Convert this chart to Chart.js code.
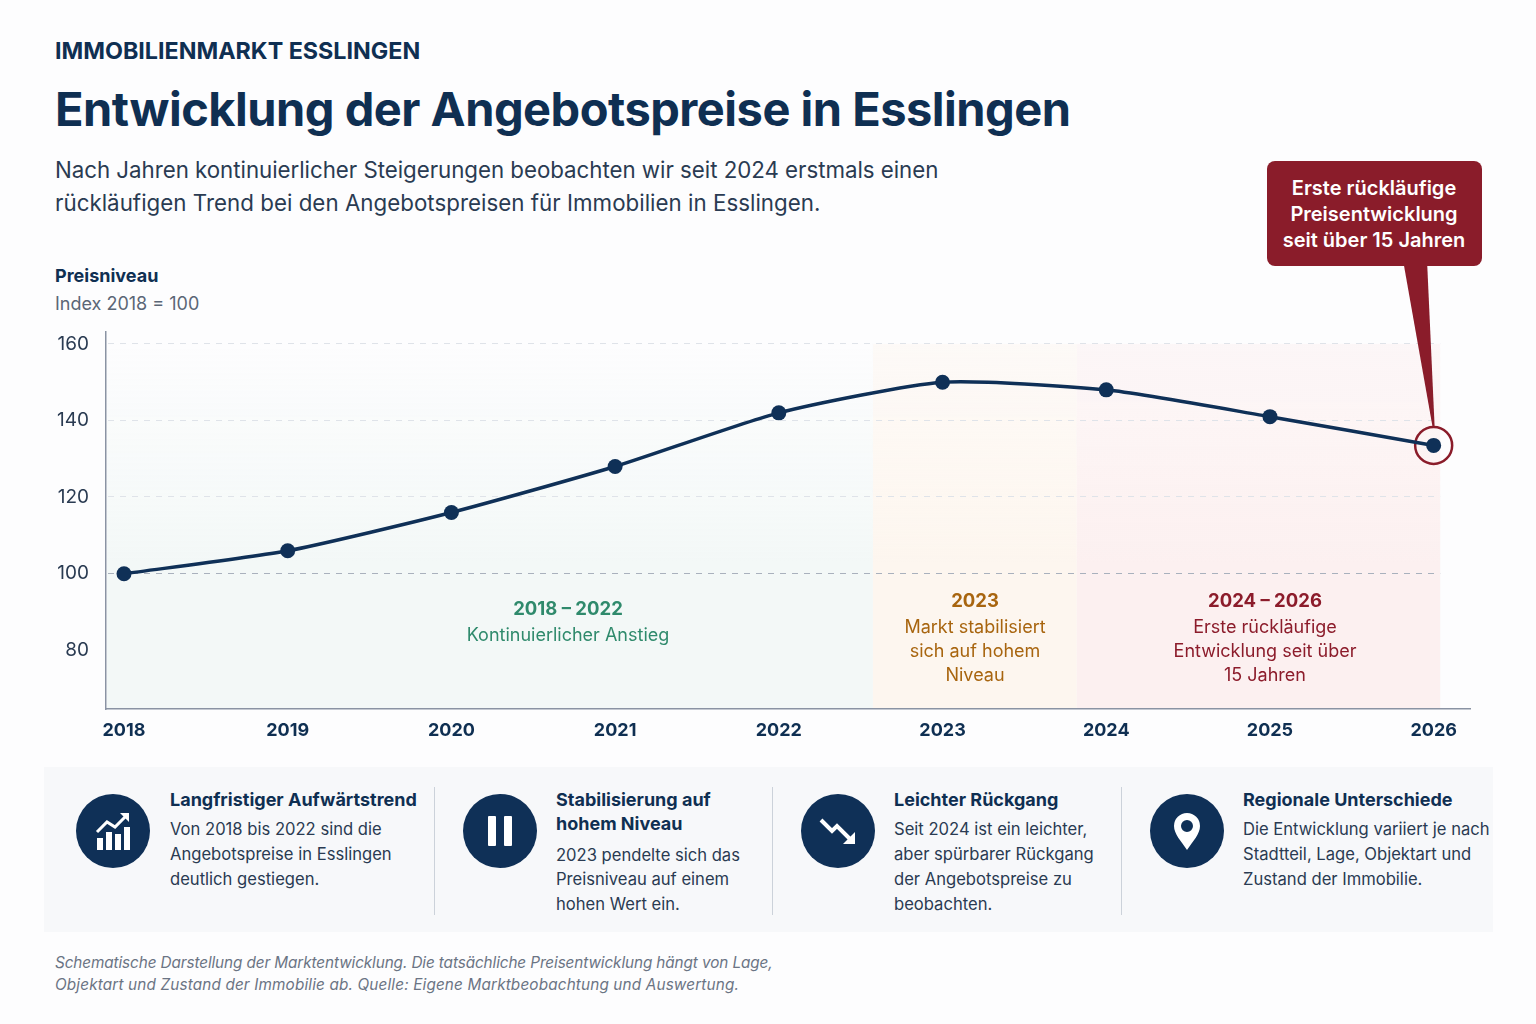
<!DOCTYPE html>
<html lang="de">
<head>
<meta charset="utf-8">
<title>Entwicklung der Angebotspreise in Esslingen</title>
<script src="https://cdn.jsdelivr.net/npm/chart.js@4/dist/chart.umd.min.js"></script>
<style>
html, body { margin: 0; padding: 0; background: #fdfdfe; }
body { position: relative; width: 1536px; height: 1024px; overflow: hidden; font-family: Inter, "Noto Sans", sans-serif; color: #0f2f52; }
.t { position: absolute; white-space: nowrap; line-height: 24px; height: 24px; }
.c { transform: translateX(-50%); text-align: center; }
.b { font-weight: 700; color: #0f2f52; }
.card { font-size: 16.6px; color: #2a3b52; }
.cardhead { font-size: 18px; font-weight: 700; color: #0f2f52; }
.foot { font-size: 15.3px; font-style: italic; color: #6b7484; }
#panel { position: absolute; left: 44px; top: 767px; width: 1449px; height: 165px; background: #f7f8fa; }
.div { position: absolute; top: 787px; width: 1px; height: 128px; background: #ccd2da; }
.icon { position: absolute; top: 794px; width: 74px; height: 74px; }
#callout { position: absolute; left: 1267px; top: 161px; width: 215px; height: 105px; border-radius: 8px; background: #8a1c2a; }
.w { color: #fff; font-size: 20px; font-weight: 600; }
#chart { position: absolute; left: 0; top: 260px; }
</style>
</head>
<body>

<div class="t b" style="left:55px;top:39px;font-size:23.3px;">IMMOBILIENMARKT ESSLINGEN</div>
<div class="t b" style="left:55px;top:97px;font-size:47px;letter-spacing:-0.5px;">Entwicklung der Angebotspreise in Esslingen</div>
<div class="t" style="left:55px;top:158px;font-size:22.3px;letter-spacing:-0.03px;color:#2a3b52;">Nach Jahren kontinuierlicher Steigerungen beobachten wir seit 2024 erstmals einen</div>
<div class="t" style="left:55px;top:191px;font-size:22.3px;letter-spacing:0.03px;color:#2a3b52;">rückläufigen Trend bei den Angebotspreisen für Immobilien in Esslingen.</div>
<div class="t b" style="left:55px;top:264px;font-size:18px;">Preisniveau</div>
<div class="t" style="left:55px;top:292px;font-size:18px;color:#5b6676;">Index 2018 = 100</div>

<canvas id="chart" width="1536" height="500"></canvas>

<div class="t c" style="left:568px;top:596px;font-size:18.5px;font-weight:700;color:#2f8a6c;">2018 – 2022</div>
<div class="t c" style="left:568px;top:623px;font-size:18px;color:#2f8a6c;">Kontinuierlicher Anstieg</div>
<div class="t c" style="left:975px;top:588px;font-size:18.5px;font-weight:700;color:#a8650f;">2023</div>
<div class="t c" style="left:975px;top:615px;font-size:18px;color:#a8650f;">Markt stabilisiert</div>
<div class="t c" style="left:975px;top:639px;font-size:18px;color:#a8650f;">sich auf hohem</div>
<div class="t c" style="left:975px;top:663px;font-size:18px;color:#a8650f;">Niveau</div>
<div class="t c" style="left:1265px;top:588px;font-size:18.5px;font-weight:700;color:#8c1c2b;">2024 – 2026</div>
<div class="t c" style="left:1265px;top:615px;font-size:18px;color:#8c1c2b;">Erste rückläufige</div>
<div class="t c" style="left:1265px;top:639px;font-size:18px;color:#8c1c2b;">Entwicklung seit über</div>
<div class="t c" style="left:1265px;top:663px;font-size:18px;color:#8c1c2b;">15 Jahren</div>

<div id="callout"></div>
<div class="t c w" style="left:1374px;top:176px;">Erste rückläufige</div>
<div class="t c w" style="left:1374px;top:202px;">Preisentwicklung</div>
<div class="t c w" style="left:1374px;top:228px;">seit über 15 Jahren</div>

<div id="panel"></div>
<div class="div" style="left:434px;"></div>
<div class="div" style="left:772px;"></div>
<div class="div" style="left:1121px;"></div>

<svg class="icon" style="left:76px;" viewBox="0 0 74 74">
  <circle cx="37" cy="37" r="37" fill="#0f3057"/>
  <g fill="#fff"><rect x="21" y="44" width="6" height="12"/><rect x="30" y="38" width="6" height="18"/><rect x="39" y="40" width="6" height="16"/><rect x="48" y="33" width="6" height="23"/></g>
  <path d="M21 38 L31 28 L39 33 L50 22" fill="none" stroke="#fff" stroke-width="3"/>
  <path d="M44 19 H53 V28 Z" fill="#fff"/>
</svg>
<svg class="icon" style="left:463px;" viewBox="0 0 74 74">
  <circle cx="37" cy="37" r="37" fill="#0f3057"/>
  <rect x="25" y="22" width="8" height="30" rx="1" fill="#fff"/><rect x="41" y="22" width="8" height="30" rx="1" fill="#fff"/>
</svg>
<svg class="icon" style="left:801px;" viewBox="0 0 74 74">
  <circle cx="37" cy="37" r="37" fill="#0f3057"/>
  <path d="M20 26 L31 37 L36 32 L49 45" fill="none" stroke="#fff" stroke-width="4"/>
  <path d="M54 50 H42 L54 38 Z" fill="#fff"/>
</svg>
<svg class="icon" style="left:1150px;" viewBox="0 0 74 74">
  <circle cx="37" cy="37" r="37" fill="#0f3057"/>
  <path fill-rule="evenodd" fill="#fff" d="M37 56 C31 47 24 40 24 32 A13 13 0 0 1 50 32 C50 40 43 47 37 56 Z M37 26 A6 6 0 1 0 37 38 A6 6 0 1 0 37 26 Z"/>
</svg>

<div class="t cardhead" style="left:170px;top:788px;">Langfristiger Aufwärtstrend</div>
<div class="t card" style="left:170px;top:817px;">Von 2018 bis 2022 sind die</div>
<div class="t card" style="left:170px;top:842px;">Angebotspreise in Esslingen</div>
<div class="t card" style="left:170px;top:867px;">deutlich gestiegen.</div>

<div class="t cardhead" style="left:556px;top:788px;">Stabilisierung auf</div>
<div class="t cardhead" style="left:556px;top:812px;">hohem Niveau</div>
<div class="t card" style="left:556px;top:843px;">2023 pendelte sich das</div>
<div class="t card" style="left:556px;top:867px;">Preisniveau auf einem</div>
<div class="t card" style="left:556px;top:892px;">hohen Wert ein.</div>

<div class="t cardhead" style="left:894px;top:788px;">Leichter Rückgang</div>
<div class="t card" style="left:894px;top:817px;">Seit 2024 ist ein leichter,</div>
<div class="t card" style="left:894px;top:842px;">aber spürbarer Rückgang</div>
<div class="t card" style="left:894px;top:867px;">der Angebotspreise zu</div>
<div class="t card" style="left:894px;top:892px;">beobachten.</div>

<div class="t cardhead" style="left:1243px;top:788px;">Regionale Unterschiede</div>
<div class="t card" style="left:1243px;top:817px;">Die Entwicklung variiert je nach</div>
<div class="t card" style="left:1243px;top:842px;">Stadtteil, Lage, Objektart und</div>
<div class="t card" style="left:1243px;top:867px;">Zustand der Immobilie.</div>

<div class="t foot" style="left:55px;top:951px;letter-spacing:-0.1px;">Schematische Darstellung der Marktentwicklung. Die tatsächliche Preisentwicklung hängt von Lage,</div>
<div class="t foot" style="left:55px;top:973px;letter-spacing:0.15px;">Objektart und Zustand der Immobilie ab. Quelle: Eigene Marktbeobachtung und Auswertung.</div>

<script>
// Daten
var years = [2018, 2019, 2020, 2021, 2022, 2023, 2024, 2025, 2026];
var preise = [100, 106, 116, 128, 142, 150, 148, 141, 133.5];
var yTicks = [80, 100, 120, 140, 160];

// Phasen (Jahre auf der x-Achse)
var bandStart = [2017.89, 2022.575, 2023.82];
var bandEnd = [2022.575, 2023.82, 2026.04];

// Hintergrund-Flaechen und gestrichelte Linien
var bandPlugin = {
    id: 'bands',
    beforeDatasetsDraw: function(chart) {
        var ctx = chart.ctx, x = chart.scales.x, y = chart.scales.y;
        var top = y.getPixelForValue(160), bottom = chart.chartArea.bottom - 1;
        var colors = [
            ['rgba(243,248,247,0)', 'rgba(243,248,247,1)'],
            ['rgba(253,246,239,0.5)', 'rgba(253,246,239,1)'],
            ['rgba(252,241,241,0.55)', 'rgba(252,240,240,1)']
        ];
        bandStart.forEach(function(s, i) {
            var g = ctx.createLinearGradient(0, top, 0, bottom);
            g.addColorStop(0, colors[i][0]);
            g.addColorStop(0.6, colors[i][1]);
            ctx.fillStyle = g;
            var l = x.getPixelForValue(s), r = x.getPixelForValue(bandEnd[i]);
            if (i === 0) l += 1;
            ctx.fillRect(l, top, r - l, bottom - top);
        });
        ctx.save();
        ctx.setLineDash([6, 6]);
        ctx.lineWidth = 1;
        yTicks.forEach(function(t) {
            if (t === 80) return;
            var py = Math.round(y.getPixelForValue(t)) - 0.5;
            ctx.strokeStyle = t === 100 ? '#a9b1bd' : '#dfe3e9';
            ctx.beginPath();
            ctx.moveTo(x.left + 2, py);
            ctx.lineTo(x.getPixelForValue(bandEnd[2]), py);
            ctx.stroke();
        });
        ctx.restore();
    },
    // Spitze der Sprechblase
    afterDatasetsDraw: function(chart) {
        var ctx = chart.ctx, x = chart.scales.x, y = chart.scales.y;
        var last = years.length - 1;
        var tipX = x.getPixelForValue(years[last]), tipY = y.getPixelForValue(preise[last]) - 18;
        ctx.fillStyle = '#8a1c2a';
        ctx.beginPath();
        ctx.moveTo(1403, 0);
        ctx.lineTo(1427, 0);
        ctx.lineTo(tipX + 1, tipY);
        ctx.lineTo(tipX - 1, tipY);
        ctx.closePath();
        ctx.fill();
    }
};

var ctx = document.getElementById('chart').getContext('2d');
var chart = new Chart(ctx, {
    type: 'line',
    data: {
        datasets: [{
            label: 'Preisniveau',
            data: years.map(function(v, i) { return { x: v, y: preise[i] }; }),
            borderColor: '#0f3057',
            backgroundColor: '#0f3057',
            borderWidth: 3.5,
            tension: 0.2,
            pointRadius: 7.5,
            pointBackgroundColor: '#0f3057',
            pointBorderWidth: 0
        }, {
            label: 'Aktuell',
            data: [{ x: years[years.length - 1], y: preise[preise.length - 1] }],
            showLine: false,
            pointRadius: 18.5,
            pointBackgroundColor: 'rgba(0,0,0,0)',
            pointBorderColor: '#8a1c2a',
            pointBorderWidth: 2.5
        }]
    },
    options: {
        responsive: false,
        animation: false,
        layout: { padding: { left: 0, right: 66, top: 72, bottom: 0 } },
        plugins: { legend: { display: false }, tooltip: { enabled: false } },
        scales: {
            x: {
                type: 'linear',
                min: 2017.89,
                max: 2026.222,
                grid: { display: false },
                border: { color: '#8a93a3', width: 1.5 },
                afterBuildTicks: function(axis) {
                    axis.ticks = years.map(function(v) { return { value: v }; });
                },
                afterFit: function(axis) { axis.height = 51; },
                ticks: {
                    autoSkip: false,
                    maxRotation: 0,
                    padding: 3,
                    color: '#0f2f52',
                    font: { family: 'Inter', size: 18, weight: '700' },
                    callback: function(v) { return String(v); }
                }
            },
            y: {
                min: 64.7,
                max: 163.1,
                grid: { display: false },
                border: { color: '#8a93a3', width: 1.5 },
                afterBuildTicks: function(axis) {
                    axis.ticks = yTicks.map(function(v) { return { value: v }; });
                },
                afterFit: function(axis) { axis.width = 106; },
                ticks: {
                    padding: 9,
                    color: '#2a3b52',
                    font: { family: 'Inter', size: 19 },
                    callback: function(v) { return String(v); }
                }
            }
        }
    },
    plugins: [bandPlugin]
});
</script>
</body>
</html>
